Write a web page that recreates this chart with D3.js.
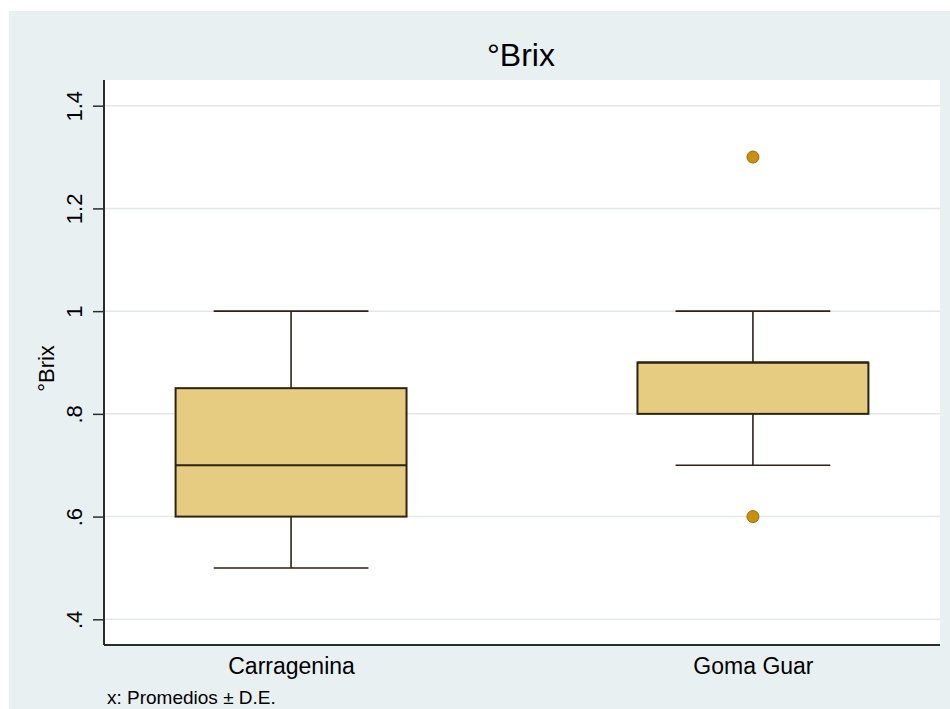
<!DOCTYPE html>
<html>
<head>
<meta charset="utf-8">
<script src="https://cdn.jsdelivr.net/npm/d3@7"></script>
<style>
  html, body { margin: 0; padding: 0; background: #ffffff; }
  svg { display: block; font-family: "Liberation Sans", Arial, Helvetica, sans-serif; }
</style>
</head>
<body>
<svg id="chart" width="950" height="709"></svg>
<script>
// Groups on the x axis
const categories = ["Carragenina", "Goma Guar"];
// Five-number summaries per group (lower whisker, Q1, median, Q3, upper whisker)
const whiskerLow  = [0.5, 0.7];
const quartile1   = [0.6, 0.8];
const medians     = [0.7, 0.9];
const quartile3   = [0.85, 0.9];
const whiskerHigh = [1.0, 1.0];
// Points beyond the whiskers
const outlierGroup  = ["Goma Guar", "Goma Guar"];
const outlierValues = [0.6, 1.3];
// Y tick values and their printed labels
const yTicks = [0.4, 0.6, 0.8, 1.0, 1.2, 1.4];
const yTickLabels = [".4", ".6", ".8", "1", "1.2", "1.4"];

const svg = d3.select("#chart");
const W = 950, H = 709;
const plot = { left: 104, right: 940, top: 80, bottom: 645 };

// Outer panel background
svg.append("rect")
  .attr("x", 9).attr("y", 11)
  .attr("width", W - 9).attr("height", H - 11)
  .attr("fill", "#e9f0f2");

// Plot region
svg.append("rect")
  .attr("x", plot.left).attr("y", plot.top)
  .attr("width", plot.right - plot.left).attr("height", plot.bottom - plot.top)
  .attr("fill", "#ffffff");

const y = d3.scaleLinear().domain([0.35, 1.45]).range([plot.bottom, plot.top]);
const x = d3.scalePoint().domain(categories).range([plot.left, plot.right]).padding(0.405);
const step = x.step();
const boxW = step * 0.5;
const capW = step * 0.335;

// Horizontal grid lines
svg.append("g")
  .selectAll("line")
  .data(yTicks)
  .join("line")
  .attr("x1", plot.left).attr("x2", plot.right)
  .attr("y1", d => y(d)).attr("y2", d => y(d))
  .attr("stroke", "#e2e7e9")
  .attr("stroke-width", 1.5);

// Y axis
const yAxis = d3.axisLeft(y)
  .tickValues(yTicks)
  .tickSize(11)
  .tickPadding(10)
  .tickFormat((d, i) => yTickLabels[i]);

const gy = svg.append("g")
  .attr("transform", `translate(${plot.left},0)`)
  .call(yAxis);
gy.select(".domain").remove();
gy.selectAll(".tick line").attr("stroke", "#2b2b2b").attr("stroke-width", 1.5);
gy.selectAll(".tick text")
  .attr("font-size", 22)
  .attr("fill", "#000")
  .attr("text-anchor", "middle")
  .attr("x", 0).attr("dy", 0)
  .attr("transform", "translate(-22,0) rotate(-90)");

svg.append("line")
  .attr("x1", plot.left).attr("x2", plot.left)
  .attr("y1", plot.top).attr("y2", plot.bottom)
  .attr("stroke", "#2b2b2b").attr("stroke-width", 2);

// X axis
const xAxis = d3.axisBottom(x).tickSize(0).tickPadding(12);
const gx = svg.append("g")
  .attr("transform", `translate(0,${plot.bottom})`)
  .call(xAxis);
gx.select(".domain").remove();
gx.selectAll(".tick text")
  .attr("font-size", 23)
  .attr("fill", "#000")
  .attr("dy", "0.72em");

svg.append("line")
  .attr("x1", plot.left).attr("x2", plot.right)
  .attr("y1", plot.bottom).attr("y2", plot.bottom)
  .attr("stroke", "#2b2b2b").attr("stroke-width", 2);

// Box plots
const stroke = "#2e2213";
const boxes = categories.map((c, i) => ({
  cat: c, lo: whiskerLow[i], q1: quartile1[i], med: medians[i], q3: quartile3[i], hi: whiskerHigh[i]
}));

const g = svg.append("g").selectAll("g").data(boxes).join("g");

// whisker stems
g.append("line")
  .attr("x1", d => x(d.cat)).attr("x2", d => x(d.cat))
  .attr("y1", d => y(d.hi)).attr("y2", d => y(d.q3))
  .attr("stroke", stroke).attr("stroke-width", 1.6);
g.append("line")
  .attr("x1", d => x(d.cat)).attr("x2", d => x(d.cat))
  .attr("y1", d => y(d.q1)).attr("y2", d => y(d.lo))
  .attr("stroke", stroke).attr("stroke-width", 1.6);
// whisker caps
g.append("line")
  .attr("x1", d => x(d.cat) - capW / 2).attr("x2", d => x(d.cat) + capW / 2)
  .attr("y1", d => y(d.hi)).attr("y2", d => y(d.hi))
  .attr("stroke", stroke).attr("stroke-width", 1.6);
g.append("line")
  .attr("x1", d => x(d.cat) - capW / 2).attr("x2", d => x(d.cat) + capW / 2)
  .attr("y1", d => y(d.lo)).attr("y2", d => y(d.lo))
  .attr("stroke", stroke).attr("stroke-width", 1.6);
// interquartile box
g.append("rect")
  .attr("x", d => x(d.cat) - boxW / 2)
  .attr("width", boxW)
  .attr("y", d => y(d.q3))
  .attr("height", d => y(d.q1) - y(d.q3))
  .attr("fill", "#e5cc80")
  .attr("stroke", stroke).attr("stroke-width", 2);
// median
g.append("line")
  .attr("x1", d => x(d.cat) - boxW / 2).attr("x2", d => x(d.cat) + boxW / 2)
  .attr("y1", d => y(d.med)).attr("y2", d => y(d.med))
  .attr("stroke", stroke).attr("stroke-width", 2);

// Outliers
svg.append("g")
  .selectAll("circle")
  .data(outlierValues.map((v, i) => ({ cat: outlierGroup[i], v })))
  .join("circle")
  .attr("cx", d => x(d.cat))
  .attr("cy", d => y(d.v))
  .attr("r", 6)
  .attr("fill", "#c8900c")
  .attr("stroke", "#9a6c0a")
  .attr("stroke-width", 1);

// Title
svg.append("text")
  .attr("x", (plot.left + plot.right) / 2 - 1)
  .attr("y", 66)
  .attr("text-anchor", "middle")
  .attr("font-size", 32)
  .attr("fill", "#000")
  .text("°Brix");

// Y axis title
svg.append("text")
  .attr("transform", `translate(54,${(plot.top + plot.bottom) / 2 + 6}) rotate(-90)`)
  .attr("text-anchor", "middle")
  .attr("font-size", 22)
  .attr("fill", "#000")
  .text("°Brix");

// Footnote
svg.append("text")
  .attr("x", 107)
  .attr("y", 704)
  .attr("font-size", 19)
  .attr("fill", "#000")
  .text("x: Promedios ± D.E.");
</script>
</body>
</html>
